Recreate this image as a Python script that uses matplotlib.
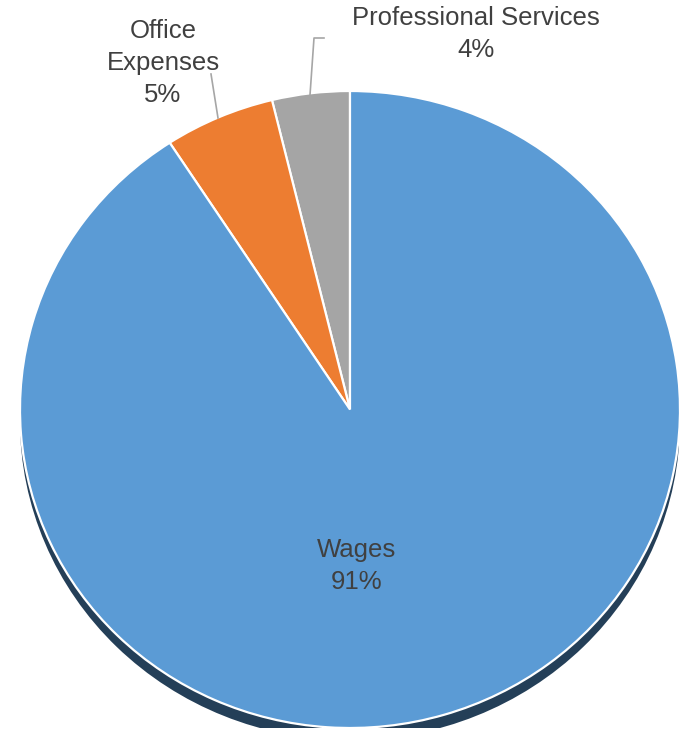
import matplotlib.pyplot as plt
from matplotlib.patches import Ellipse

# Data
categories = ["Professional Services", "Office Expenses", "Wages"]
shares = [3.8, 5.4, 90.8]
colors = ["#A5A5A5", "#ED7D31", "#5B9BD5"]

W, H = 679, 742
fig = plt.figure(figsize=(W / 100, H / 100), dpi=100)

# pie axes spans the ellipse bounding box (pixels: x 20..680, y 91..728)
left, right, top, bottom = 20, 680, 91, 728
ax = fig.add_axes([left / W, 1 - bottom / H, (right - left) / W, (bottom - top) / H])
ax.axis("off")

# dark rim under the pie
ax.add_patch(Ellipse((0, -0.038), 2, 2, facecolor="#243F58", edgecolor="none", zorder=0))

wedges, _ = ax.pie(shares, colors=colors, startangle=90, counterclock=True,
                   wedgeprops=dict(edgecolor="white", linewidth=1.6),
                   radius=1, frame=False)
for w in wedges:
    w.set_zorder(2)
ax.set_xlim(-1, 1)
ax.set_ylim(-1, 1)
ax.set_aspect("auto")

# overlay axes in pixel coords for labels
ov = fig.add_axes([0, 0, 1, 1])
ov.set_xlim(0, W)
ov.set_ylim(H, 0)
ov.axis("off")

txt = dict(color="#404040", fontsize=18.5, family=["Liberation Sans", "DejaVu Sans"],
           ha="center", va="center", linespacing=1.4)

pcts = [f"{round(s)}%" for s in shares]
ov.text(476, 34, f"{categories[0]}\n{pcts[0]}", **txt)
ov.text(163, 63, "Office\nExpenses\n" + pcts[1], **txt)
ov.text(357, 566, f"{categories[2]}\n{pcts[2]}", **txt)

# leader lines
ov.plot([211, 218], [74, 118], color="#A6A6A6", lw=1.2)
ov.plot([324, 314, 310], [38, 38, 95], color="#A6A6A6", lw=1.2)

fig.savefig("out.png", dpi=100)
